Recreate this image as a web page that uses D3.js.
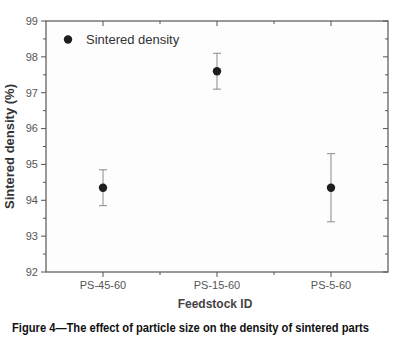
<!DOCTYPE html>
<html>
<head>
<meta charset="utf-8">
<script src="https://cdn.jsdelivr.net/npm/d3@7"></script>
<style>
  body { margin: 0; background: #fff; }
  text { font-family: "Liberation Sans", Arial, sans-serif; }
</style>
</head>
<body>
<div id="chart"></div>
<script>
// data
var feedstocks = ["PS-45-60", "PS-15-60", "PS-5-60"];
var density = [94.35, 97.6, 94.35];
var densityErr = [0.5, 0.5, 0.95];
var yTicks = [92, 93, 94, 95, 96, 97, 98, 99];

var W = 399, H = 349;
var margin = {top: 21, right: 11, bottom: 77, left: 46},
    width = W - margin.left - margin.right,
    height = H - margin.top - margin.bottom;

var svg = d3.select("#chart")
  .append("svg")
    .attr("width", W)
    .attr("height", H);

var g = svg.append("g")
    .attr("transform", "translate(" + margin.left + "," + margin.top + ")");

// x is a linear scale with categories at 1,2,3
var x = d3.scaleLinear().domain([0.5, 3.5]).range([0, width]);
var y = d3.scaleLinear().domain([92, 99]).range([height, 0]);

var axisColor = "#555";

// frame
g.append("rect")
    .attr("width", width).attr("height", height)
    .attr("fill", "#fdfdfd")
    .attr("stroke", axisColor).attr("stroke-width", 1.2);

var majorX = [1, 2, 3], minorX = [1.5, 2.5];
var minorY = d3.range(92.5, 99, 1);

// bottom (out) and top (in) ticks
majorX.concat(minorX).forEach(function (v) {
  var len = majorX.indexOf(v) >= 0 ? 5 : 3;
  g.append("line").attr("x1", x(v)).attr("x2", x(v))
    .attr("y1", height).attr("y2", height + len)
    .attr("stroke", axisColor);
  g.append("line").attr("x1", x(v)).attr("x2", x(v))
    .attr("y1", 0).attr("y2", len)
    .attr("stroke", axisColor);
});

// left (out) and right (in) ticks
yTicks.concat(minorY).forEach(function (v) {
  var len = yTicks.indexOf(v) >= 0 ? 5 : 3;
  g.append("line").attr("x1", -len).attr("x2", 0)
    .attr("y1", y(v)).attr("y2", y(v))
    .attr("stroke", axisColor);
  g.append("line").attr("x1", width - len).attr("x2", width)
    .attr("y1", y(v)).attr("y2", y(v))
    .attr("stroke", axisColor);
});

// tick labels
g.selectAll(".ylab").data(yTicks).enter().append("text")
    .attr("x", -8).attr("y", function (d) { return y(d); })
    .attr("dy", "0.35em")
    .attr("text-anchor", "end")
    .attr("font-size", "11px")
    .attr("fill", "#555")
    .text(function (d) { return d; });

g.selectAll(".xlab").data(feedstocks).enter().append("text")
    .attr("x", function (d, i) { return x(i + 1); })
    .attr("y", height + 17)
    .attr("text-anchor", "middle")
    .attr("font-size", "11px")
    .attr("fill", "#555")
    .text(function (d) { return d; });

// axis titles
g.append("text")
    .attr("x", width / 2 - 2).attr("y", height + 36)
    .attr("text-anchor", "middle")
    .attr("font-size", "12px")
    .attr("font-weight", "bold")
    .attr("fill", "#444")
    .text("Feedstock ID");

g.append("text")
    .attr("transform", "translate(" + (-32) + "," + (height / 2) + ") rotate(-90)")
    .attr("text-anchor", "middle")
    .attr("font-size", "13px")
    .attr("font-weight", "bold")
    .attr("fill", "#333")
    .text("Sintered density (%)");

// error bars
var errColor = "#8a8a8a";
feedstocks.forEach(function (f, i) {
  var cx = x(i + 1);
  var top = y(density[i] + densityErr[i]), bot = y(density[i] - densityErr[i]);
  g.append("line").attr("x1", cx).attr("x2", cx).attr("y1", top).attr("y2", bot)
    .attr("stroke", errColor);
  [top, bot].forEach(function (yy) {
    g.append("line").attr("x1", cx - 4).attr("x2", cx + 4).attr("y1", yy).attr("y2", yy)
      .attr("stroke", errColor);
  });
});

// points
g.selectAll(".pt").data(density).enter().append("circle")
    .attr("cx", function (d, i) { return x(i + 1); })
    .attr("cy", function (d) { return y(d); })
    .attr("r", 4.2)
    .attr("fill", "#1e1e1e");

// legend
g.append("circle").attr("cx", 22).attr("cy", 18.5).attr("r", 4.2).attr("fill", "#1e1e1e");
g.append("text")
    .attr("x", 40).attr("y", 18.5).attr("dy", "0.35em")
    .attr("font-size", "13px")
    .attr("fill", "#333")
    .text("Sintered density");

// caption
svg.append("text")
    .attr("x", 12).attr("y", 332)
    .attr("font-family", "'Liberation Sans Narrow', 'Liberation Sans', Arial, sans-serif")
    .attr("font-size", "12px")
    .attr("font-weight", "bold")
    .attr("fill", "#111")
    .attr("textLength", 357)
    .attr("lengthAdjust", "spacingAndGlyphs")
    .text("Figure 4\u2014The effect of particle size on the density of sintered parts");
</script>
</body>
</html>
